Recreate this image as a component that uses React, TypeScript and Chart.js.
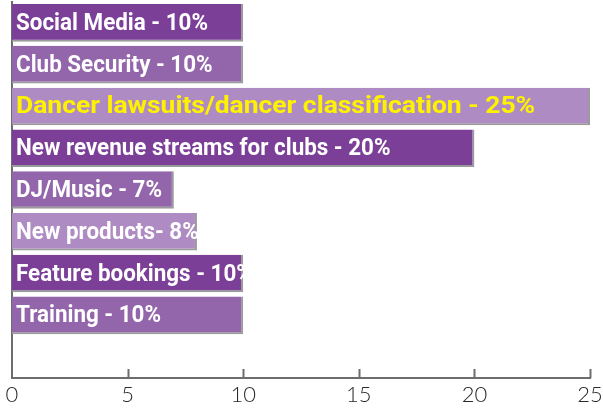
import React, { useEffect, useRef } from "react";
import { Chart, registerables } from "chart.js";

Chart.register(...registerables);

const categories = [
  "Social Media - 10%",
  "Club Security - 10%",
  "Dancer lawsuits/dancer classification - 25%",
  "New revenue streams for clubs - 20%",
  "DJ/Music - 7%",
  "New products- 8%",
  "Feature bookings - 10%",
  "Training - 10%",
  "",
];
const values: (number | null)[] = [10, 10, 25, 20, 7, 8, 10, 10, null];
const barColors = [
  "#7b3f98",
  "#9366ab",
  "#ae8cc3",
  "#7b3f98",
  "#9366ab",
  "#ae8cc3",
  "#7b3f98",
  "#9366ab",
  "#9366ab",
];
const highlightIndex = 2;
const xTicks = [0, 5, 10, 15, 20, 25];

const labelFont = "bold 24px Roboto, 'Liberation Sans', sans-serif";
const labelTargetWidth = 192; // width of first label in reference

const insideLabels = {
  id: "insideLabels",
  afterDatasetsDraw(chart: any) {
    const ctx = chart.ctx;
    const meta = chart.getDatasetMeta(0);
    ctx.save();
    ctx.font = labelFont;
    const sx = labelTargetWidth / ctx.measureText(categories[0]).width;
    ctx.textBaseline = "middle";
    ctx.textAlign = "left";
    meta.data.forEach((bar: any, i: number) => {
      if (values[i] == null) return;
      ctx.save();
      ctx.translate(bar.base + 4, bar.y + 1);
      const hl = i === highlightIndex;
      ctx.scale(hl ? sx * 1.18 : sx, 1);
      ctx.fillStyle = hl ? "#fff200" : "#ffffff";
      ctx.fillText(categories[i], 0, 0);
      ctx.restore();
    });
    ctx.restore();
  },
};

const innerTicks = {
  id: "innerTicks",
  afterDraw(chart: any) {
    const ctx = chart.ctx;
    const xs = chart.scales.x;
    const bottom = chart.chartArea.bottom;
    ctx.save();
    ctx.strokeStyle = "#6d6d6d";
    ctx.lineWidth = 2;
    xTicks.forEach((v) => {
      if (v === 0) return;
      const px = Math.round(xs.getPixelForValue(v)) + 0.5;
      ctx.beginPath();
      ctx.moveTo(px, bottom);
      ctx.lineTo(px, bottom - 9);
      ctx.stroke();
    });
    ctx.restore();
  },
};

export default function App() {
  const ref = useRef<HTMLCanvasElement>(null);
  useEffect(() => {
    if (!ref.current) return;
    const chart = new Chart(ref.current, {
      type: "bar",
      data: {
        labels: categories,
        datasets: [
          {
            data: values,
            backgroundColor: barColors,
            borderColor: "#9a9a9a",
            borderWidth: { top: 0, left: 0, right: 2, bottom: 2 },
            borderSkipped: false,
            barPercentage: 0.9,
            categoryPercentage: 1,
          },
        ],
      },
      options: {
        indexAxis: "y",
        animation: false,
        responsive: true,
        maintainAspectRatio: false,
        layout: { padding: { left: 12, right: 0, top: 2, bottom: 0 } },
        plugins: {
          legend: { display: false },
          tooltip: { enabled: false },
        },
        scales: {
          x: {
            type: "linear",
            min: 0,
            max: 25,
            afterBuildTicks: (scale: any) => {
              scale.ticks = xTicks.map((v) => ({ value: v }));
            },
            afterFit: (scale: any) => {
              scale.height = 30;
              scale.paddingRight = 13;
              scale.paddingLeft = 0;
            },
            grid: { display: false, drawTicks: false },
            border: { display: true, color: "#6d6d6d", width: 2 },
            ticks: {
              color: "#2a2a2a",
              font: { family: "Lato, 'Open Sans', sans-serif", size: 22, weight: 300, lineHeight: 1.1 },
              padding: 5,
            },
          },
          y: {
            grid: { display: false, drawTicks: false },
            border: { display: true, color: "#6d6d6d", width: 2 },
            ticks: { display: false },
          },
        },
      },
      plugins: [insideLabels, innerTicks],
    });
    return () => chart.destroy();
  }, []);
  return (
    <div style={{ position: "fixed", left: 0, top: 0, width: 603, height: 408, background: "#fff" }}>
      <canvas ref={ref} />
    </div>
  );
}
